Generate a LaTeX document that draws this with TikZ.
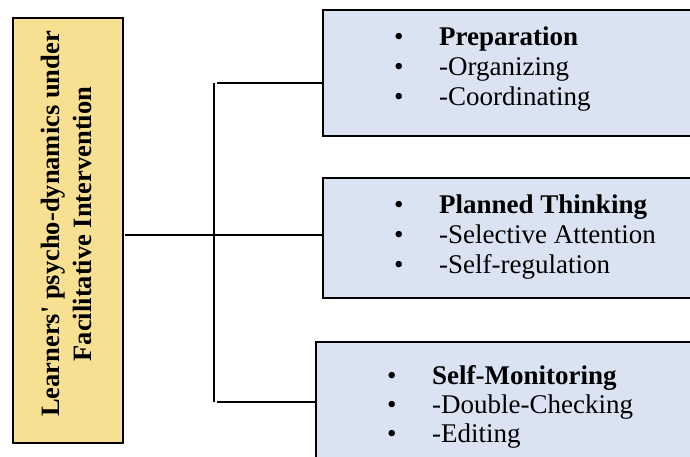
\documentclass[tikz,border=0pt]{standalone}
\usepackage{fontspec}
\setmainfont{Liberation Serif}
\definecolor{goldfill}{RGB}{247,224,145}
\definecolor{bluefill}{RGB}{218,227,242}
\tikzset{
  yellowbox/.style={draw=black, line width=1.8pt, fill=goldfill, inner sep=0pt},
  bluebox/.style={draw=black, line width=1.8pt, fill=bluefill, inner sep=0pt, anchor=north west},
  conn/.style={draw=black, line width=1.4pt},
  item/.style={anchor=base west, inner sep=0pt, font=\fontsize{27}{30}\selectfont},
}
\newcommand{\bul}[1]{\makebox[45pt][l]{\textbullet}#1}
\begin{document}
\begin{tikzpicture}[x=1pt, y=-1pt]
\useasboundingbox (0,0) rectangle (690,457);
\clip (0,0) rectangle (690,457);
% main yellow box
\node[yellowbox, minimum width=110pt, minimum height=425pt] (main) at (68,230.5) {};
\node[rotate=90, align=center, inner sep=0pt, font=\bfseries\fontsize{26.5}{32}\selectfont] (maintext) at (66,224)
  {Learners\textquotesingle\ psycho-dynamics under\\Facilitative Intervention};
% blue boxes
\node[bluebox, minimum width=380pt, minimum height=126pt] (box1) at (322,9) {};
\node[bluebox, minimum width=380pt, minimum height=120pt] (box2) at (322,177) {};
\node[bluebox, minimum width=390pt, minimum height=130pt] (box3) at (315,341) {};
% texts
\node[item] (p1) at (394,46) {\bul{\textbf{Preparation}}};
\node[item] (p2) at (394,76) {\bul{-Organizing}};
\node[item] (p3) at (394,106) {\bul{-Coordinating}};
\node[item] (q1) at (394,213) {\bul{\textbf{Planned Thinking}}};
\node[item] (q2) at (394,243) {\bul{-Selective Attention}};
\node[item] (q3) at (394,273) {\bul{-Self-regulation}};
\node[item] (r1) at (387,384) {\bul{\textbf{Self-Monitoring}}};
\node[item] (r2) at (387,413) {\bul{-Double-Checking}};
\node[item] (r3) at (387,442) {\bul{-Editing}};
% connectors
\coordinate (bt) at (214,83);
\coordinate (bb) at (214,402);
\coordinate (ms) at (125,235);
\draw[conn] (bt) -- (bb);
\draw[conn] (ms) -- (ms -| box2.west);
\draw[conn] (bt -| 217,0) -- (bt -| box1.west);
\draw[conn] (bb -| 217,0) -- (bb -| box3.west);
\end{tikzpicture}
\end{document}
